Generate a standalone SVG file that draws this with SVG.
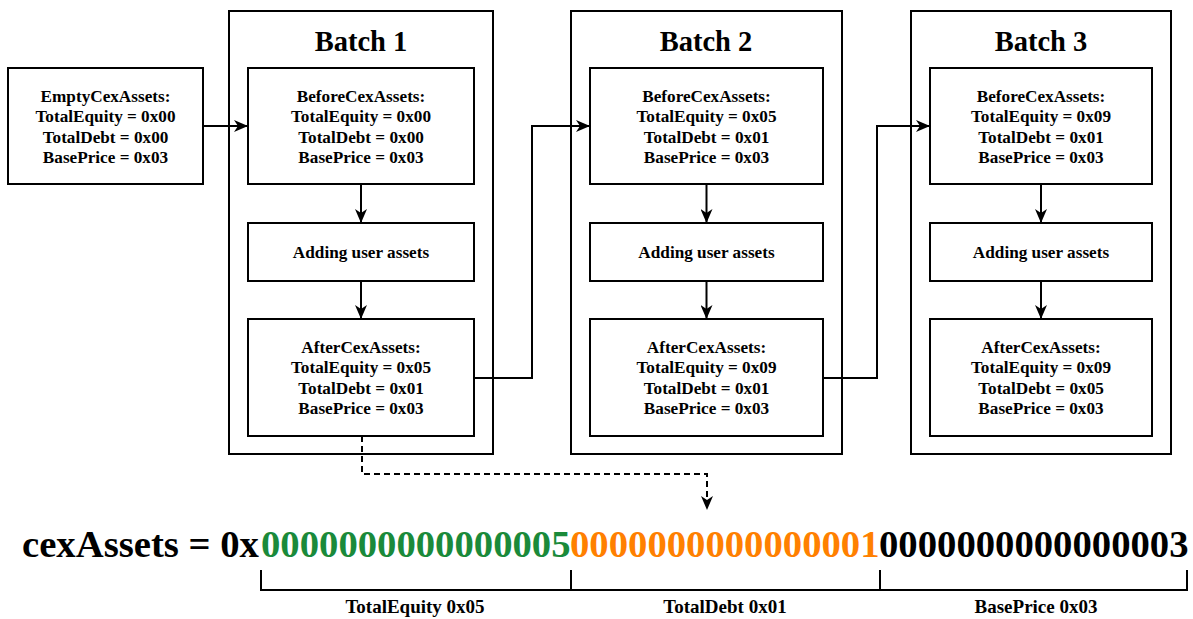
<svg xmlns="http://www.w3.org/2000/svg" width="1193" height="619" viewBox="0 0 1193 619">
  <style>
    .box { fill: #ffffff; stroke: #000000; stroke-width: 2; }
    .frame { fill: none; stroke: #000000; stroke-width: 2; }
    .t { font-family: "Liberation Serif", "Times New Roman", serif; font-weight: bold; fill: #000000; text-anchor: middle; }
    .body { font-size: 17.2px; }
    .label { font-size: 19px; }
    .title { font-size: 28.5px; }
    .edge { fill: none; stroke: #000000; stroke-width: 2; }
    .dash { stroke-dasharray: 6 4; }
    .big { font-family: "Liberation Serif", "Times New Roman", serif; font-weight: bold; font-size: 38.7px; }
  </style>
  <defs>
    <marker id="arrow" markerUnits="userSpaceOnUse" markerWidth="14" markerHeight="12" viewBox="0 0 14 12" refX="14" refY="6" orient="auto">
      <path d="M0,0 L14,6 L0,12 L4,6 z" fill="#000000"/>
    </marker>
  </defs>

  <rect width="1193" height="619" fill="#ffffff"/>

  <!-- batch frames -->
  <g id="batch1">
    <rect class="frame" x="229" y="11" width="264" height="443"/>
    <text class="t title" x="361" y="51">Batch 1</text>
  </g>
  <g id="batch2">
    <rect class="frame" x="571" y="11" width="271" height="443"/>
    <text class="t title" x="706" y="51">Batch 2</text>
  </g>
  <g id="batch3">
    <rect class="frame" x="911" y="11" width="260" height="443"/>
    <text class="t title" x="1041" y="51">Batch 3</text>
  </g>

  <!-- initial state -->
  <g id="empty">
    <rect class="box" x="8" y="68" width="195" height="116"/>
    <text class="t body" x="105.5"><tspan x="105.5" y="101.5">EmptyCexAssets:</tspan><tspan x="105.5" y="122">TotalEquity = 0x00</tspan><tspan x="105.5" y="142.5">TotalDebt = 0x00</tspan><tspan x="105.5" y="163">BasePrice = 0x03</tspan></text>
  </g>

  <!-- batch 1 nodes -->
  <g id="b1-before">
    <rect class="box" x="248" y="68" width="226" height="116"/>
    <text class="t body"><tspan x="361" y="101.5">BeforeCexAssets:</tspan><tspan x="361" y="122">TotalEquity = 0x00</tspan><tspan x="361" y="142.5">TotalDebt = 0x00</tspan><tspan x="361" y="163">BasePrice = 0x03</tspan></text>
  </g>
  <g id="b1-add">
    <rect class="box" x="248" y="223" width="226" height="58"/>
    <text class="t body" x="361" y="257.5">Adding user assets</text>
  </g>
  <g id="b1-after">
    <rect class="box" x="248" y="319" width="226" height="117"/>
    <text class="t body"><tspan x="361" y="352.5">AfterCexAssets:</tspan><tspan x="361" y="373">TotalEquity = 0x05</tspan><tspan x="361" y="393.5">TotalDebt = 0x01</tspan><tspan x="361" y="414">BasePrice = 0x03</tspan></text>
  </g>

  <!-- batch 2 nodes -->
  <g id="b2-before">
    <rect class="box" x="590" y="68" width="233" height="116"/>
    <text class="t body"><tspan x="706.5" y="101.5">BeforeCexAssets:</tspan><tspan x="706.5" y="122">TotalEquity = 0x05</tspan><tspan x="706.5" y="142.5">TotalDebt = 0x01</tspan><tspan x="706.5" y="163">BasePrice = 0x03</tspan></text>
  </g>
  <g id="b2-add">
    <rect class="box" x="590" y="223" width="233" height="58"/>
    <text class="t body" x="706.5" y="257.5">Adding user assets</text>
  </g>
  <g id="b2-after">
    <rect class="box" x="590" y="319" width="233" height="117"/>
    <text class="t body"><tspan x="706.5" y="352.5">AfterCexAssets:</tspan><tspan x="706.5" y="373">TotalEquity = 0x09</tspan><tspan x="706.5" y="393.5">TotalDebt = 0x01</tspan><tspan x="706.5" y="414">BasePrice = 0x03</tspan></text>
  </g>

  <!-- batch 3 nodes -->
  <g id="b3-before">
    <rect class="box" x="930" y="68" width="222" height="116"/>
    <text class="t body"><tspan x="1041" y="101.5">BeforeCexAssets:</tspan><tspan x="1041" y="122">TotalEquity = 0x09</tspan><tspan x="1041" y="142.5">TotalDebt = 0x01</tspan><tspan x="1041" y="163">BasePrice = 0x03</tspan></text>
  </g>
  <g id="b3-add">
    <rect class="box" x="930" y="223" width="222" height="58"/>
    <text class="t body" x="1041" y="257.5">Adding user assets</text>
  </g>
  <g id="b3-after">
    <rect class="box" x="930" y="319" width="222" height="117"/>
    <text class="t body"><tspan x="1041" y="352.5">AfterCexAssets:</tspan><tspan x="1041" y="373">TotalEquity = 0x09</tspan><tspan x="1041" y="393.5">TotalDebt = 0x05</tspan><tspan x="1041" y="414">BasePrice = 0x03</tspan></text>
  </g>

  <!-- connectors -->
  <g id="connectors">
    <path class="edge" d="M203,126 H248" marker-end="url(#arrow)"/>
    <path class="edge" d="M361,184 V223" marker-end="url(#arrow)"/>
    <path class="edge" d="M361,281 V319" marker-end="url(#arrow)"/>
    <path class="edge" d="M474,378 H532 V126 H590" marker-end="url(#arrow)"/>
    <path class="edge" d="M706.5,184 V223" marker-end="url(#arrow)"/>
    <path class="edge" d="M706.5,281 V319" marker-end="url(#arrow)"/>
    <path class="edge" d="M823,378 H877 V126 H930" marker-end="url(#arrow)"/>
    <path class="edge" d="M1041,184 V223" marker-end="url(#arrow)"/>
    <path class="edge" d="M1041,281 V319" marker-end="url(#arrow)"/>
    <path class="edge dash" d="M362,436 V474 H707 V510" marker-end="url(#arrow)"/>
  </g>

  <!-- encoded value -->
  <g id="cexassets">
    <text class="big" y="557"><tspan x="22" fill="#000000">cexAssets = 0x</tspan><tspan x="261" fill="#1a8a3a">0000000000000005</tspan><tspan x="570" fill="#ff8000">0000000000000001</tspan><tspan x="879" fill="#000000">0000000000000003</tspan></text>
  </g>

  <!-- field brackets -->
  <g id="brackets">
    <path class="edge" d="M261,570 V590 H1187 V570 M571,570 V590 M880,570 V590"/>
    <text class="t label" x="415" y="613">TotalEquity 0x05</text>
    <text class="t label" x="725" y="613">TotalDebt 0x01</text>
    <text class="t label" x="1036" y="613">BasePrice 0x03</text>
  </g>
</svg>
